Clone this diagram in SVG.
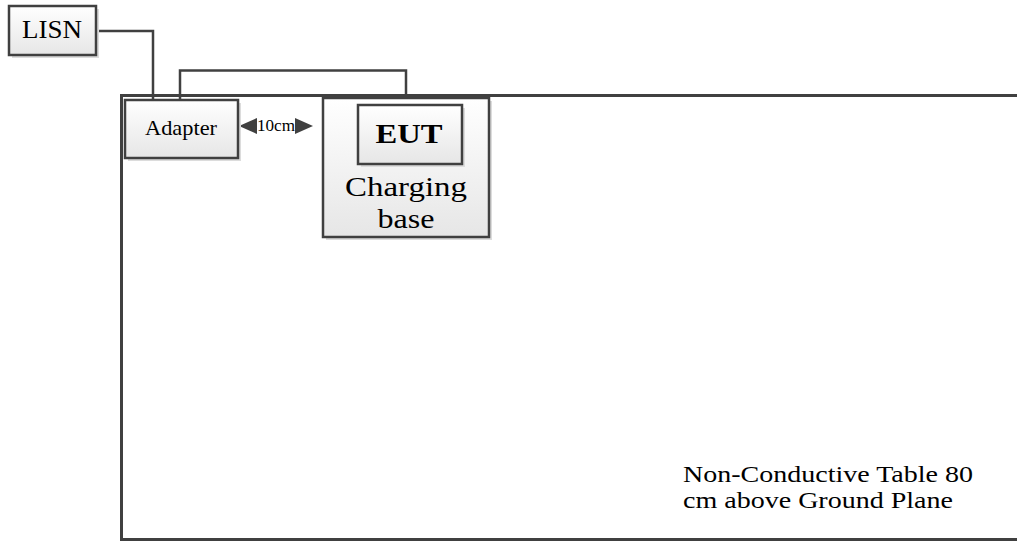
<svg xmlns="http://www.w3.org/2000/svg" width="1017" height="543" viewBox="0 0 1017 543">
<style>
.box{stroke:#404040;stroke-width:2.5;fill:url(#g)}
.sh{fill:#dcdcdc}
.ln{stroke:#404040;stroke-width:2.5;fill:none}
.ah{fill:#404040}
text{font-family:"Liberation Serif",serif;fill:#000}
</style>
<defs>
<linearGradient id="g" x1="0" y1="0" x2="0" y2="1">
<stop offset="0" stop-color="#ffffff"/>
<stop offset="1" stop-color="#e6e6e6"/>
</linearGradient>
</defs>
<g id="table">
<path class="ln" d="M1017,95.5 H121.5 V539.5 H1017" style="stroke-width:3"/>
<text x="683" y="482" font-size="24" textLength="290" lengthAdjust="spacingAndGlyphs">Non-Conductive Table 80</text>
<text x="683" y="508" font-size="24" textLength="270" lengthAdjust="spacingAndGlyphs">cm above Ground Plane</text>
</g>
<g id="connectors">
<path class="ln" d="M97,31 H153 V100"/>
<path class="ln" d="M180,100 V70.5 H406 V98"/>
<path class="ah" d="M239,126 L257,118 L257,134 z"/>
<path class="ah" d="M313,126 L295,118 L295,134 z"/>
<text x="276" y="131" font-size="16" text-anchor="middle" textLength="38" lengthAdjust="spacingAndGlyphs">10cm</text>
</g>
<g id="lisn">
<rect class="sh" x="12" y="9" width="87" height="49"/>
<rect class="box" x="9" y="6" width="87" height="49"/>
<text x="52" y="38" font-size="25" text-anchor="middle" textLength="60" lengthAdjust="spacingAndGlyphs">LISN</text>
</g>
<g id="adapter">
<rect class="sh" x="128" y="103" width="113" height="58"/>
<rect class="box" x="125" y="100" width="113" height="58"/>
<text x="181" y="135" font-size="22" text-anchor="middle" textLength="72" lengthAdjust="spacingAndGlyphs">Adapter</text>
</g>
<g id="charging-base">
<rect class="sh" x="326" y="101" width="166" height="139"/>
<rect class="box" x="323" y="98" width="166" height="139"/>
<text x="406" y="196" font-size="27" text-anchor="middle" textLength="122" lengthAdjust="spacingAndGlyphs">Charging</text>
<text x="406" y="228" font-size="27" text-anchor="middle" textLength="57" lengthAdjust="spacingAndGlyphs">base</text>
</g>
<g id="eut">
<rect class="sh" x="361" y="108" width="104" height="59"/>
<rect class="box" x="358" y="105" width="104" height="59"/>
<text x="409" y="143" font-size="28" font-weight="bold" text-anchor="middle" textLength="67" lengthAdjust="spacingAndGlyphs">EUT</text>
</g>
</svg>
